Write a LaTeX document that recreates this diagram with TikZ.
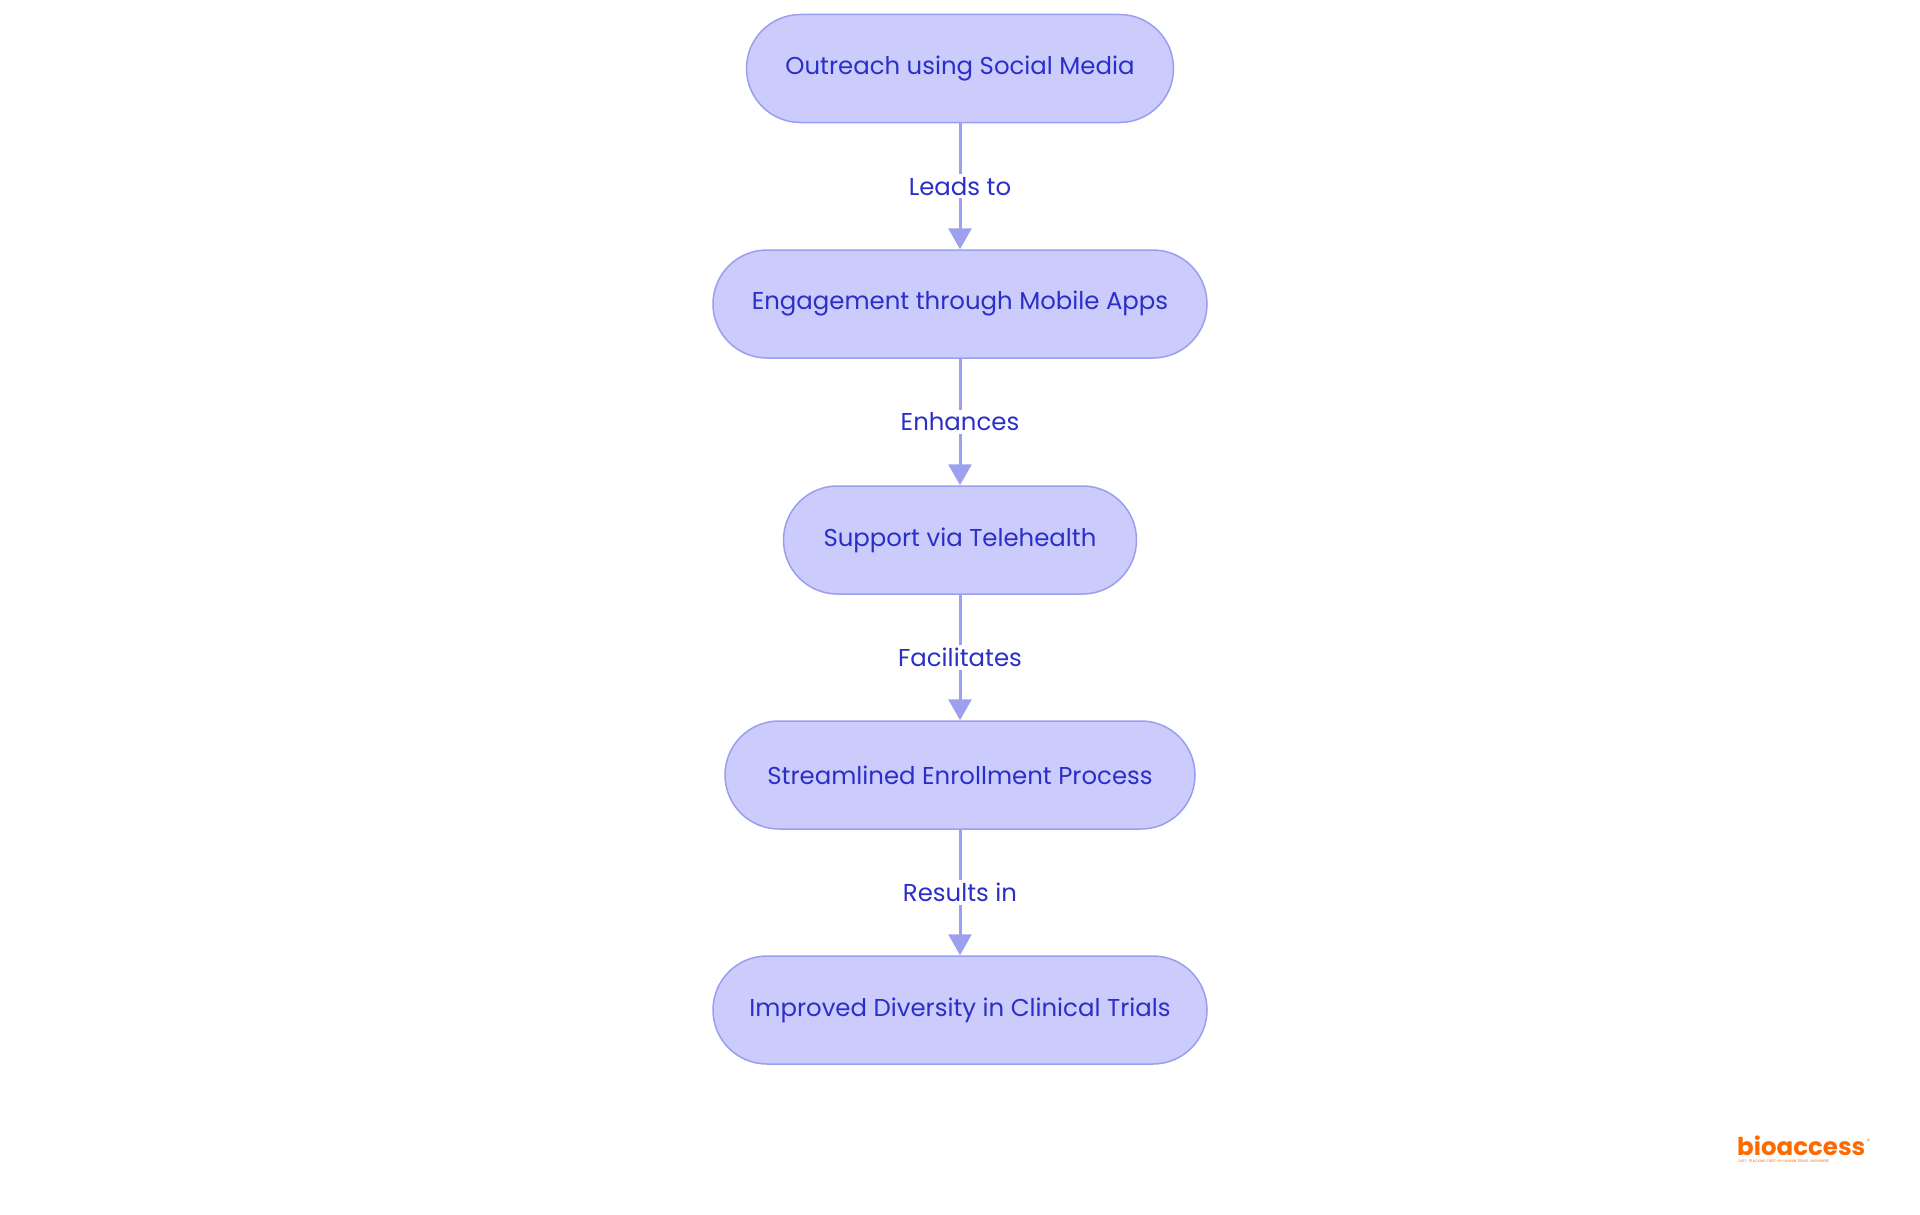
\documentclass[tikz,border=0pt]{standalone}
\usepackage{fontspec}
\setmainfont{Poppins}
\usetikzlibrary{arrows.meta}
\definecolor{nodefill}{HTML}{CBCCFC}
\definecolor{nodeline}{HTML}{9A9EEF}
\definecolor{txt}{HTML}{2B2FC7}
\definecolor{edge}{HTML}{9DA0EE}
\definecolor{logo}{HTML}{FF6A00}
\tikzset{
  box/.style={draw=nodeline, fill=nodefill, line width=1.5pt, rounded corners=54pt,
    minimum height=108pt, inner sep=0pt, text=txt, font=\fontsize{24.4}{28}\selectfont},
  conn/.style={draw=edge, line width=3pt, -{Triangle[width=23pt,length=21pt]}},
  lbl/.style={fill=white, text=txt, inner xsep=2pt, inner ysep=3pt, font=\fontsize{24.4}{28}\selectfont},
}
\begin{document}
\begin{tikzpicture}[x=1pt,y=-1pt]
\useasboundingbox (0,0) rectangle (1920,1215);
\node[box, minimum width=427pt] (n1) at (960,68.5) {Outreach using Social Media};
\node[box, minimum width=494pt] (n2) at (960,304) {Engagement through Mobile Apps};
\node[box, minimum width=353pt] (n3) at (960,540) {Support via Telehealth};
\node[box, minimum width=470pt] (n4) at (960,775) {Streamlined Enrollment Process};
\node[box, minimum width=494pt] (n5) at (960,1010) {Improved Diversity in Clinical Trials};
\draw[conn] (n1) -- node[lbl] {Leads to} (n2);
\draw[conn] (n2) -- node[lbl] {Enhances} (n3);
\draw[conn] (n3) -- node[lbl] {Facilitates} (n4);
\draw[conn] (n4) -- node[lbl] {Results in} (n5);
\node[text=logo, font=\fontsize{24.5}{25}\selectfont\bfseries, inner sep=0pt, anchor=base west] (logo) at (1737,1155) {bioaccess};
\node[text=logo, font=\fontsize{6}{6}\selectfont, inner sep=0pt, anchor=north west] (reg) at ([xshift=1pt,yshift=-4pt]logo.north east) {®};
\node[text=logo, font=\fontsize{3.6}{4}\selectfont, inner sep=0pt, anchor=north west] (tag) at (1738,1160) {FAST-TRACKING FIRST-IN-HUMAN TRIALS. ANYWHERE};
\end{tikzpicture}
\end{document}
